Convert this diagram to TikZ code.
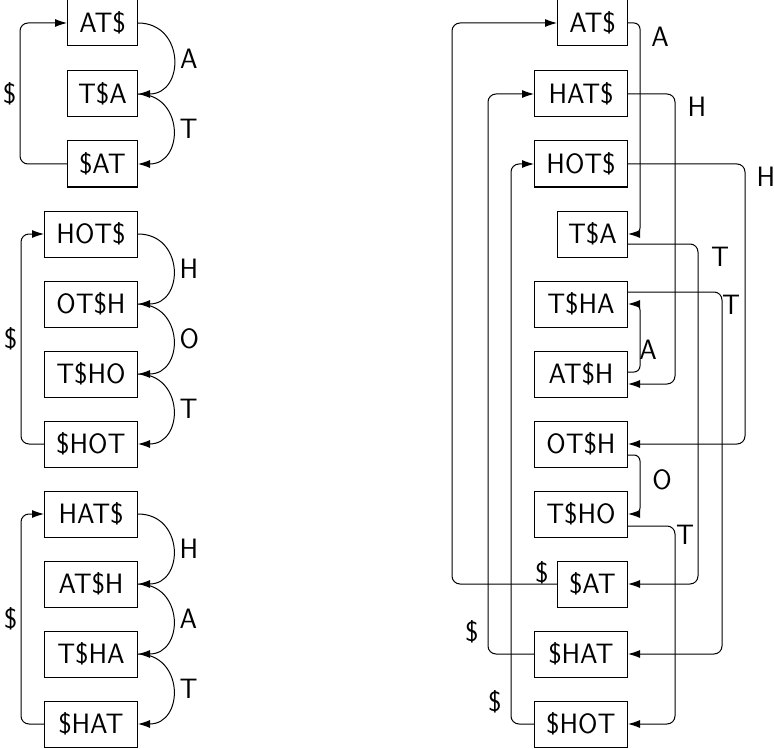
\documentclass[tikz,border=0pt]{standalone}
\usepackage{fontspec}
\usetikzlibrary{arrows.meta}
\tikzstyle{word}=[draw, line width=1pt, anchor=east, minimum height=46pt, inner xsep=0pt]
\tikzstyle{short}=[word, minimum width=70pt]
\tikzstyle{long}=[word, minimum width=93pt]
\tikzstyle{link}=[->, line width=1pt, rounded corners=8pt]

\begin{document}
\begin{tikzpicture}[x=1pt, y=-1pt, font=\sffamily\fontsize{28}{30}\selectfont,
                    >={Latex[length=12pt, width=8pt]}]
    \useasboundingbox (0,0) rectangle (774,749);
    % left: the three words on their own
    \node[short] (lAT) at (138, 23) {AT\$};
    \node[short] (lTA) at (138, 94) {T\$A};
    \node[short] (lsAT) at (138, 164) {\$AT};
    \node[long] (lHOT) at (138, 234) {HOT\$};
    \node[long] (lOTH) at (138, 304) {OT\$H};
    \node[long] (lTHO) at (138, 374) {T\$HO};
    \node[long] (lsHOT) at (138, 444) {\$HOT};
    \node[long] (lHAT) at (138, 514) {HAT\$};
    \node[long] (lATH) at (138, 584) {AT\$H};
    \node[long] (lTHA) at (138, 654) {T\$HA};
    \node[long] (lsHAT) at (138, 724) {\$HAT};
    \draw[link]
        (lAT.east) to[out=0, in=0, looseness=1.7] node[right=3pt] {A} (lTA.east);
    \draw[link]
        (lTA.east) to[out=0, in=0, looseness=1.7] node[right=3pt] {T} (lsAT.east);
    \draw[link]
        (lsAT.west) -| node[pos=0.75, left] {\$} ([xshift=-47pt]lAT.west) -- (lAT.west);
    \draw[link]
        (lHOT.east) to[out=0, in=0, looseness=1.7] node[right=3pt] {H} (lOTH.east);
    \draw[link]
        (lOTH.east) to[out=0, in=0, looseness=1.7] node[right=3pt] {O} (lTHO.east);
    \draw[link]
        (lTHO.east) to[out=0, in=0, looseness=1.7] node[right=3pt] {T} (lsHOT.east);
    \draw[link]
        (lsHOT.west) -| node[pos=0.75, left] {\$} ([xshift=-23pt]lHOT.west) -- (lHOT.west);
    \draw[link]
        (lHAT.east) to[out=0, in=0, looseness=1.7] node[right=3pt] {H} (lATH.east);
    \draw[link]
        (lATH.east) to[out=0, in=0, looseness=1.7] node[right=3pt] {A} (lTHA.east);
    \draw[link]
        (lTHA.east) to[out=0, in=0, looseness=1.7] node[right=3pt] {T} (lsHAT.east);
    \draw[link]
        (lsHAT.west) -| node[pos=0.75, left] {\$} ([xshift=-23pt]lHAT.west) -- (lHAT.west);

    % right: all rotations sorted together
    \node[short] (rAT) at (628, 23) {AT\$};
    \node[long] (rHAT) at (628, 94) {HAT\$};
    \node[long] (rHOT) at (628, 164) {HOT\$};
    \node[short] (rTA) at (628, 234) {T\$A};
    \node[long] (rTHA) at (628, 304) {T\$HA};
    \node[long] (rATH) at (628, 374) {AT\$H};
    \node[long] (rOTH) at (628, 444) {OT\$H};
    \node[long] (rTHO) at (628, 514) {T\$HO};
    \node[short] (rsAT) at (628, 584) {\$AT};
    \node[long] (rsHAT) at (628, 654) {\$HAT};
    \node[long] (rsHOT) at (628, 724) {\$HOT};
    \draw[link, rounded corners=6pt]
        (rAT.east) -| ([xshift=12pt]rTA.east) -- (rTA.east);
    \draw[link]
        (rHAT.east) -| ([xshift=47pt, yshift=-10pt]rATH.east) -- ([yshift=-10pt]rATH.east);
    \draw[link]
        (rHOT.east) -| ([xshift=117pt]rOTH.east) -- (rOTH.east);
    \draw[link]
        ([yshift=-10pt]rTA.east) -| ([xshift=70pt]rsAT.east) -- (rsAT.east);
    \draw[link]
        ([yshift=12pt]rTHA.east) -| ([xshift=94pt]rsHAT.east) -- (rsHAT.east);
    \draw[link, rounded corners=6pt]
        ([yshift=2pt]rATH.east) -| ([xshift=12pt]rTHA.east) -- (rTHA.east);
    \draw[link, rounded corners=6pt]
        ([yshift=-11pt]rOTH.east) -| ([xshift=12pt]rTHO.east) -- (rTHO.east);
    \draw[link]
        ([yshift=-12pt]rTHO.east) -| ([xshift=47pt]rsHOT.east) -- (rsHOT.east);
    \draw[link]
        (rsAT.west) -| ([xshift=-105pt]rAT.west) -- (rAT.west);
    \draw[link]
        (rsHAT.west) -| ([xshift=-46pt]rHAT.west) -- (rHAT.west);
    \draw[link]
        (rsHOT.west) -| ([xshift=-23pt]rHOT.west) -- (rHOT.west);
    \node (lblA1) at (660, 37) {A};
    \node (lblH1) at (697, 107) {H};
    \node (lblH2) at (766, 177) {H};
    \node (lblT1) at (720, 257) {T};
    \node (lblT2) at (731, 305) {T};
    \node (lblA2) at (648, 350) {A};
    \node (lblO) at (662, 480) {O};
    \node (lblT3) at (685, 535) {T};
    \node (lblD1) at (542, 573) {\$};
    \node (lblD2) at (472, 632) {\$};
    \node (lblD3) at (495, 702) {\$};
\end{tikzpicture}
\end{document}
